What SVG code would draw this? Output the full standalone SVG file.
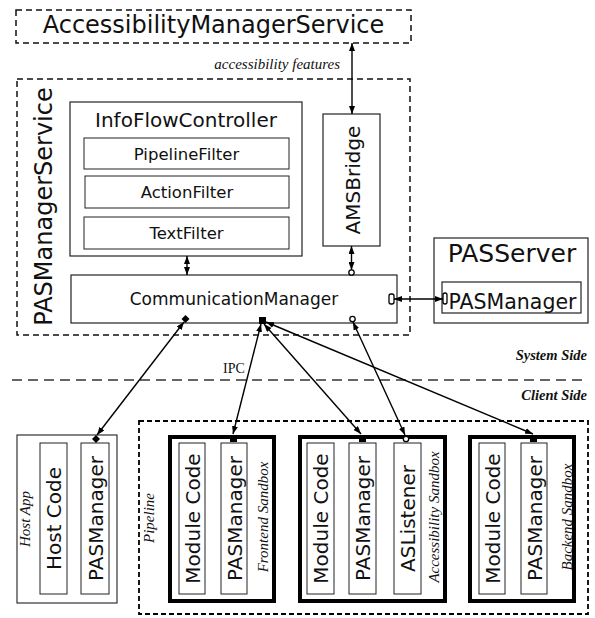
<svg xmlns="http://www.w3.org/2000/svg" width="595" height="618" viewBox="0 0 595 618">
<style>
.sans{font-family:"DejaVu Sans","Liberation Sans",sans-serif;fill:#111}
.ser{font-family:"Liberation Serif","DejaVu Serif",serif;fill:#111}
.it{font-style:italic}
.bi{font-style:italic;font-weight:bold}
.dash{fill:none;stroke:#111;stroke-width:1.5;stroke-dasharray:6 4}
.box{fill:#fff;stroke:#222;stroke-width:1.2}
.thin{fill:#fff;stroke:#222;stroke-width:1}
.sand{fill:#fff;stroke:#000;stroke-width:4}
.conn{fill:none;stroke:#000;stroke-width:1.4;marker-start:url(#ah);marker-end:url(#ah)}
.mk{fill:#000}
.mo{fill:#fff;stroke:#000;stroke-width:1.3}
.mid{text-anchor:middle}
</style>
<defs>
<marker id="ah" viewBox="0 0 8 6" refX="8" refY="3" markerWidth="8" markerHeight="6" markerUnits="userSpaceOnUse" orient="auto-start-reverse"><path d="M0,0 L8,3 L0,6 z" fill="#000"/></marker>
</defs>

<g id="ams">
<rect class="dash" x="16" y="10" width="395" height="33"/>
<text class="sans mid" x="213.5" y="33" font-size="24">AccessibilityManagerService</text>
</g>
<text class="ser it" x="340" y="69" font-size="15" text-anchor="end">accessibility features</text>

<g id="pasmanagerservice">
<rect class="dash" x="17" y="79" width="393" height="256"/>
<text class="sans mid" font-size="24" transform="translate(52,206.5) rotate(-90)">PASManagerService</text>
</g>

<g id="infoflowcontroller">
<rect class="box" x="70" y="102" width="232" height="154"/>
<text class="sans mid" x="186" y="127" font-size="20">InfoFlowController</text>
</g>
<g id="pipelinefilter">
<rect class="thin" x="84" y="138" width="205" height="31"/>
<text class="sans mid" x="186.5" y="159.5" font-size="16.5">PipelineFilter</text>
</g>
<g id="actionfilter">
<rect class="thin" x="85" y="176" width="204" height="32"/>
<text class="sans mid" x="187" y="198" font-size="16.5">ActionFilter</text>
</g>
<g id="textfilter">
<rect class="thin" x="84" y="217" width="205" height="32"/>
<text class="sans mid" x="186.5" y="239" font-size="16.5">TextFilter</text>
</g>

<g id="amsbridge">
<rect class="box" x="323" y="114" width="57" height="132"/>
<text class="sans mid" font-size="20" transform="translate(359.5,180) rotate(-90)">AMSBridge</text>
</g>

<g id="communicationmanager">
<rect class="box" x="71" y="275" width="326" height="48"/>
<text class="sans mid" x="234" y="305" font-size="17">CommunicationManager</text>
<rect class="mo" x="389" y="294" width="5" height="10" rx="2"/>
</g>

<g id="passerver">
<rect class="box" x="434" y="238" width="154" height="85" stroke-width="1.5"/>
<text class="sans mid" x="512" y="262" font-size="25">PASServer</text>
</g>
<g id="passerver-pasmanager">
<rect class="box" x="442" y="282" width="139" height="31"/>
<rect class="mo" x="443" y="293" width="4" height="11" rx="2" stroke-width="1"/>
<text class="sans mid" x="512.5" y="309" font-size="20.5">PASManager</text>
</g>

<g id="separator">
<line x1="12" y1="380" x2="588" y2="380" stroke="#333" stroke-width="1.4" stroke-dasharray="10 6"/>
<text class="ser bi" x="587" y="360" font-size="14.5" text-anchor="end">System Side</text>
<text class="ser bi" x="587" y="400" font-size="14.5" text-anchor="end">Client Side</text>
<text class="ser" x="223" y="373" font-size="14">IPC</text>
</g>

<g id="hostapp">
<rect x="17" y="435" width="100" height="168" fill="#fff" stroke="#333" stroke-width="1.2"/>
<text class="ser it mid" font-size="15" transform="translate(30,519) rotate(-90)">Host App</text>
</g>
<g id="hostcode">
<rect class="thin" x="40" y="443" width="27" height="151"/>
<text class="sans mid" font-size="20" transform="translate(61,518.5) rotate(-90)">Host Code</text>
</g>
<g id="host-pasmanager">
<rect class="thin" x="81" y="443" width="28" height="151"/>
<text class="sans mid" font-size="20" transform="translate(102.5,518.5) rotate(-90)">PASManager</text>
</g>

<g id="pipeline">
<rect x="139" y="421" width="449" height="193" fill="none" stroke="#000" stroke-width="1.8" stroke-dasharray="5 3"/>
<text class="ser it mid" font-size="15" transform="translate(154,518) rotate(-90)">Pipeline</text>
</g>

<g id="frontend-sandbox">
<rect class="sand" x="170" y="437" width="104" height="164"/>
<text class="ser it mid" font-size="15" transform="translate(268,517) rotate(-90)">Frontend Sandbox</text>
</g>
<g id="frontend-modulecode">
<rect class="thin" x="179" y="443" width="26" height="151"/>
<text class="sans mid" font-size="20" transform="translate(199.5,518.5) rotate(-90)">Module Code</text>
</g>
<g id="frontend-pasmanager">
<rect class="thin" x="221" y="443" width="26" height="151"/>
<text class="sans mid" font-size="20" transform="translate(241.5,518.5) rotate(-90)">PASManager</text>
</g>

<g id="accessibility-sandbox">
<rect class="sand" x="300" y="437" width="145" height="164"/>
<text class="ser it mid" font-size="15" transform="translate(439,517) rotate(-90)">Accessibility Sandbox</text>
</g>
<g id="accessibility-modulecode">
<rect class="thin" x="307" y="443" width="27" height="151"/>
<text class="sans mid" font-size="20" transform="translate(328,518.5) rotate(-90)">Module Code</text>
</g>
<g id="accessibility-pasmanager">
<rect class="thin" x="349" y="443" width="27" height="151"/>
<text class="sans mid" font-size="20" transform="translate(370,518.5) rotate(-90)">PASManager</text>
</g>
<g id="aslistener">
<rect class="thin" x="394" y="443" width="27" height="151"/>
<text class="sans mid" font-size="20" transform="translate(415,518.5) rotate(-90)">ASListener</text>
</g>

<g id="backend-sandbox">
<rect class="sand" x="470" y="437" width="104" height="164"/>
<text class="ser it mid" font-size="15" transform="translate(572,517) rotate(-90)">Backend Sandbox</text>
</g>
<g id="backend-modulecode">
<rect class="thin" x="479" y="443" width="26" height="151"/>
<text class="sans mid" font-size="20" transform="translate(499.5,518.5) rotate(-90)">Module Code</text>
</g>
<g id="backend-pasmanager">
<rect class="thin" x="521" y="443" width="26" height="151"/>
<text class="sans mid" font-size="20" transform="translate(541.5,518.5) rotate(-90)">PASManager</text>
</g>

<g id="connectors">
<line class="conn" x1="352" y1="43" x2="352" y2="114"/>
<line class="conn" x1="187" y1="256" x2="187" y2="275"/>
<line class="conn" x1="351.5" y1="246" x2="351.5" y2="270"/>
<line class="conn" x1="394" y1="299" x2="443" y2="299"/>
<line class="conn" x1="184" y1="322" x2="97" y2="435"/>
<line class="conn" x1="261" y1="324" x2="233" y2="434"/>
<line class="conn" x1="264" y1="324" x2="361" y2="434"/>
<line class="conn" x1="266" y1="322" x2="533" y2="434"/>
<line class="conn" x1="353" y1="322" x2="405" y2="435"/>
</g>

<g id="port-markers">
<circle class="mo" cx="351.5" cy="272.5" r="2.7"/>
<path class="mk" d="M185.5,315 L189.5,319 L185.5,323 L181.5,319 z"/>
<rect class="mk" x="259" y="317" width="7" height="7"/>
<circle class="mo" cx="352.5" cy="319" r="2.7"/>
<path class="mk" d="M96,435 L100,439 L96,443 L92,439 z"/>
<rect class="mk" x="230" y="435" width="7" height="7"/>
<rect class="mk" x="359" y="435" width="7" height="7"/>
<circle class="mo" cx="406" cy="439" r="2.7"/>
<rect class="mk" x="530" y="435" width="7" height="7"/>
</g>
</svg>
